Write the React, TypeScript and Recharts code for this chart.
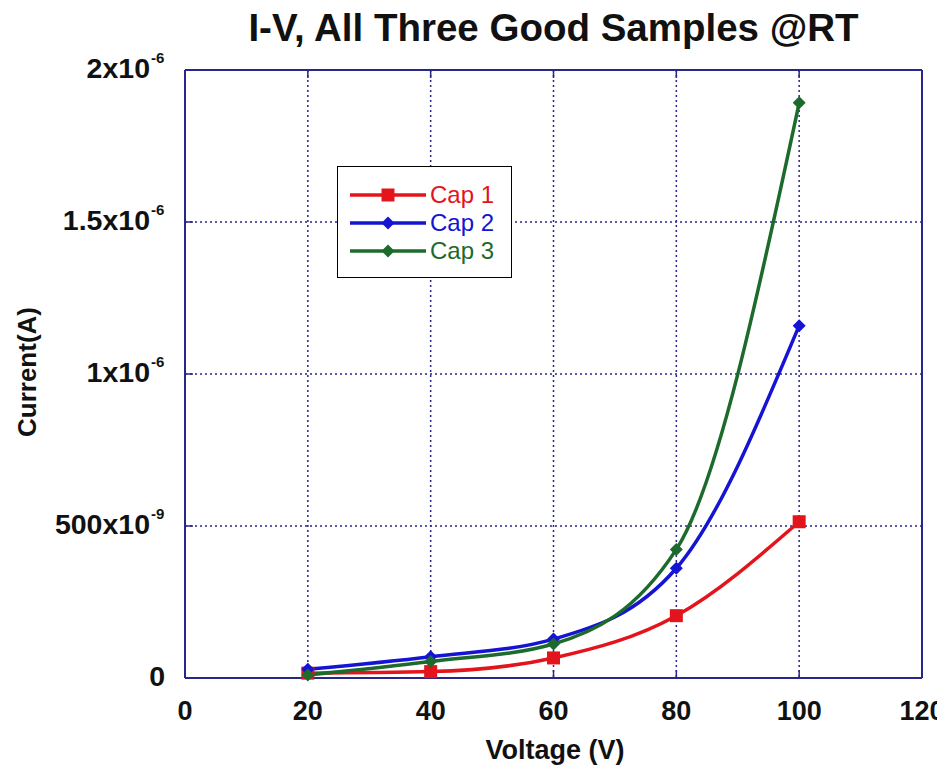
import { LineChart, Line, XAxis, YAxis, CartesianGrid, Legend } from "recharts";

// I-V data (current in A)
const voltage = [20, 40, 60, 80, 100];
const cap1 = [16e-9, 21e-9, 66e-9, 205e-9, 514e-9];
const cap2 = [29e-9, 70e-9, 128e-9, 361e-9, 1.159e-6];
const cap3 = [10e-9, 54e-9, 112e-9, 423e-9, 1.892e-6];

const xTicks = [0, 20, 40, 60, 80, 100, 120];
const yTicks = [0, 500e-9, 1e-6, 1.5e-6, 2e-6];
const yTickLabels = [
  { base: "0", exp: "" },
  { base: "500x10", exp: "-9" },
  { base: "1x10", exp: "-6" },
  { base: "1.5x10", exp: "-6" },
  { base: "2x10", exp: "-6" },
];

const series = [
  { key: "cap1", name: "Cap 1", color: "#e3141b", shape: "square" },
  { key: "cap2", name: "Cap 2", color: "#1414d2", shape: "diamond" },
  { key: "cap3", name: "Cap 3", color: "#1d6b2c", shape: "diamond" },
];

const data = voltage.map((v, i) => ({ v, cap1: cap1[i], cap2: cap2[i], cap3: cap3[i] }));

const NAVY = "#26268c";
const FONT = "'Liberation Sans', Arial, sans-serif";

function marker(shape: string, color: string, cx: number, cy: number, key?: string | number) {
  if (shape === "square") {
    return <rect key={key} x={cx - 6.5} y={cy - 6.5} width={13} height={13} fill={color} />;
  }
  return (
    <polygon
      key={key}
      points={`${cx},${cy - 6.5} ${cx + 6.5},${cy} ${cx},${cy + 6.5} ${cx - 6.5},${cy}`}
      fill={color}
    />
  );
}

function makeDot(shape: string, color: string) {
  return (props: any) => marker(shape, color, props.cx, props.cy, props.index);
}

function XTick({ x, y, payload }: any) {
  return (
    <text x={x} y={y + 50} textAnchor="middle" fontFamily={FONT} fontWeight="bold" fontSize={27} fill="#111">
      {payload.value}
    </text>
  );
}

function YTick({ x, y, payload }: any) {
  const i = yTicks.indexOf(payload.value);
  const lbl = yTickLabels[i] || { base: String(payload.value), exp: "" };
  if (!lbl.exp) {
    return (
      <text x={x - 2} y={y + 8} textAnchor="end" fontFamily={FONT} fontWeight="bold" fontSize={28.5} fill="#111">
        {lbl.base}
      </text>
    );
  }
  return (
    <g fontFamily={FONT} fontWeight="bold" fill="#111">
      <text x={x - 17} y={y + 8} textAnchor="end" fontSize={28.5}>
        {lbl.base}
      </text>
      <text x={x - 16} y={y - 7} textAnchor="start" fontSize={15}>
        {lbl.exp}
      </text>
    </g>
  );
}

function LegendBox() {
  return (
    <div style={{ padding: "14px 0 0 0" }}>
      {series.map((s) => (
        <div key={s.key} style={{ display: "flex", alignItems: "center", height: 28 }}>
          <svg width={92} height={20} style={{ display: "block" }}>
            <line x1={12} y1={10} x2={88} y2={10} stroke={s.color} strokeWidth={3.5} />
            {marker(s.shape, s.color, 50, 10)}
          </svg>
          <span style={{ fontFamily: FONT, fontSize: 24, color: s.color, lineHeight: "20px" }}>{s.name}</span>
        </div>
      ))}
    </div>
  );
}

export default function App() {
  return (
    <div style={{ position: "relative", width: 945, height: 773, margin: -8, background: "#fff" }}>
      <div
        style={{
          position: "absolute",
          left: 185,
          width: 737,
          top: 6,
          textAlign: "center",
          fontFamily: FONT,
          fontWeight: "bold",
          fontSize: 38.5,
          color: "#111",
          zIndex: 2,
        }}
      >
        I-V, All Three Good Samples @RT
      </div>
      <LineChart width={945} height={773} data={data} margin={{ top: 69, right: 22, bottom: 0, left: 0 }}>
        <CartesianGrid stroke={NAVY} strokeWidth={1.5} strokeDasharray="2 3" />
        <XAxis
          dataKey="v"
          type="number"
          domain={[0, 120]}
          ticks={xTicks}
          height={95}
          tickSize={-8}
          tickMargin={0}
          axisLine={{ stroke: NAVY, strokeWidth: 2 }}
          tickLine={{ stroke: NAVY, strokeWidth: 1.5 }}
          tick={<XTick />}
          interval={0}
          label={(props: any) => (
            <text x={555} y={759} textAnchor="middle" fontFamily={FONT} fontWeight="bold" fontSize={27} fill="#111">
              Voltage (V)
            </text>
          )}
        />
        <XAxis
          xAxisId="top"
          dataKey="v"
          type="number"
          orientation="top"
          domain={[0, 120]}
          ticks={xTicks}
          height={1}
          tickSize={-8}
          axisLine={{ stroke: NAVY, strokeWidth: 2 }}
          tickLine={{ stroke: NAVY, strokeWidth: 1.5 }}
          tick={() => <g />}
          interval={0}
        />
        <YAxis
          type="number"
          domain={[0, 2e-6]}
          ticks={yTicks}
          width={185}
          tickSize={-8}
          tickMargin={26}
          axisLine={{ stroke: NAVY, strokeWidth: 2 }}
          tickLine={{ stroke: NAVY, strokeWidth: 1.5 }}
          tick={<YTick />}
          interval={0}
          label={(props: any) => (
            <text
              x={27}
              y={372}
              transform="rotate(-90, 27, 372)"
              textAnchor="middle"
              dominantBaseline="central"
              fontFamily={FONT}
              fontWeight="bold"
              fontSize={26}
              fill="#111"
            >
              Current(A)
            </text>
          )}
        />
        <YAxis
          yAxisId="right"
          orientation="right"
          type="number"
          domain={[0, 2e-6]}
          ticks={yTicks}
          width={1}
          tickSize={-8}
          axisLine={{ stroke: NAVY, strokeWidth: 2 }}
          tickLine={{ stroke: NAVY, strokeWidth: 1.5 }}
          tick={() => <g />}
          interval={0}
        />
        {series.map((s) => (
          <Line
            key={s.key}
            dataKey={s.key}
            name={s.name}
            type="monotone"
            stroke={s.color}
            strokeWidth={3.5}
            dot={makeDot(s.shape, s.color)}
            activeDot={false}
            isAnimationActive={false}
          />
        ))}
        <Legend
          layout="vertical"
          align="center"
          verticalAlign="middle"
          content={<LegendBox />}
          wrapperStyle={{
            position: "absolute",
            left: 337,
            top: 166,
            width: 175,
            height: 112,
            border: "1.5px solid #000",
            background: "#fff",
            boxSizing: "border-box",
          }}
        />
      </LineChart>
    </div>
  );
}
